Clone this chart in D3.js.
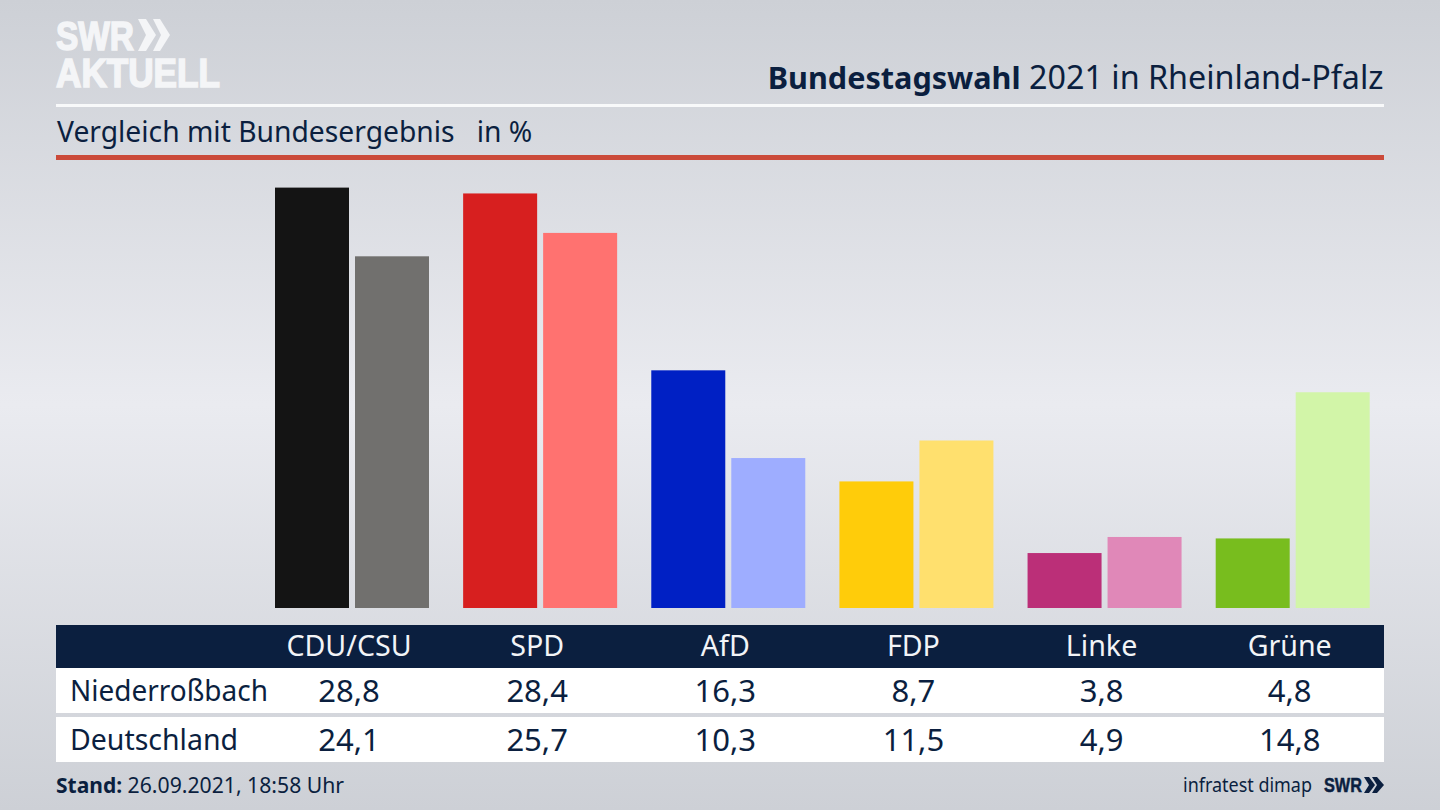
<!DOCTYPE html>
<html>
<head>
<meta charset="utf-8">
<script src="https://cdn.jsdelivr.net/npm/d3@7.9.0/dist/d3.min.js"></script>
<style>
  html, body { margin: 0; padding: 0; background: #d8dae0; }
  svg { display: block; font-family: "Noto Sans", sans-serif; }
</style>
</head>
<body>
<svg id="chart" width="1440" height="810"></svg>
<script>
const parties = ['CDU/CSU', 'SPD', 'AfD', 'FDP', 'Linke', 'Grüne'];
const rowLabels = ['Niederroßbach', 'Deutschland'];
const rowLabelWidths = [198, 168];
const localValues = [28.8, 28.4, 16.3, 8.7, 3.8, 4.8];
const nationalValues = [24.1, 25.7, 10.3, 11.5, 4.9, 14.8];
const localColors = ['#141414', '#d71f1f', '#0020c4', '#ffcc0a', '#bb2f78', '#78bd1e'];
const nationalColors = ['#71706e', '#ff7270', '#9eadff', '#ffe06e', '#e088b8', '#d2f5a8'];

const navy = '#0b1f3f';
const logoFont = '"Liberation Sans", sans-serif';
const comma = v => v.toFixed(1).replace('.', ',');

const svg = d3.select('#chart');

// background
const grad = svg.append('defs').append('linearGradient')
  .attr('id', 'bg').attr('x1', 0).attr('y1', 0).attr('x2', 0).attr('y2', 1);
grad.selectAll('stop')
  .data([['0%', '#cdd0d6'], ['50%', '#eaebf0'], ['100%', '#cdd0d6']])
  .join('stop')
  .attr('offset', d => d[0])
  .attr('stop-color', d => d[1]);
svg.append('rect').attr('width', 1440).attr('height', 810).attr('fill', 'url(#bg)');

// logo top left
const logoLine = (label, baseY, width) => svg.append('text')
  .attr('transform', `translate(56,${baseY}) scale(1,1.26)`)
  .attr('fill', '#f4f5f7')
  .attr('stroke', '#f4f5f7')
  .attr('stroke-width', 1.3)
  .attr('font-size', 32)
  .attr('font-weight', 700)
  .style('font-family', logoFont)
  .attr('textLength', width)
  .attr('lengthAdjust', 'spacingAndGlyphs')
  .text(label);
logoLine('SWR', 50, 78);
logoLine('AKTUELL', 87, 164);
svg.append('path').attr('fill', '#f4f5f7')
  .attr('d', 'M138 19h8l10 16-10 16h-8l8-16z M153 19h7l10 16-10 16h-7l8-16z');

// header
const title = svg.append('text').attr('x', 1383.5).attr('y', 89)
  .attr('text-anchor', 'end').attr('fill', navy);
title.append('tspan').attr('font-weight', 700).attr('font-size', 30.6).text('Bundestagswahl');
title.append('tspan').attr('font-size', 32.3).text(' 2021 in Rheinland-Pfalz');
svg.append('rect').attr('x', 56).attr('y', 104).attr('width', 1328).attr('height', 3).attr('fill', '#f8f9fa');
svg.append('text').attr('x', 57).attr('y', 142).attr('font-size', 28.25).attr('fill', navy)
  .style('white-space', 'pre').text('Vergleich mit Bundesergebnis   in %');
svg.append('rect').attr('x', 56).attr('y', 155).attr('width', 1328).attr('height', 5).attr('fill', '#cb4a3a');

// scales
const x = d3.scalePoint().domain(parties).range([349, 1289.7]);
const y = d3.scaleLinear().domain([0, 28.8]).range([608.6, 187.6]);
const baseline = 608;
const barW = 74;
const barGap = 6;

// bars
svg.append('g').selectAll('rect')
  .data(parties)
  .join('rect')
  .attr('x', d => x(d) - barW)
  .attr('y', (d, i) => y(localValues[i]))
  .attr('width', barW)
  .attr('height', (d, i) => baseline - y(localValues[i]))
  .attr('fill', (d, i) => localColors[i]);
svg.append('g').selectAll('rect')
  .data(parties)
  .join('rect')
  .attr('x', d => x(d) + barGap)
  .attr('y', (d, i) => y(nationalValues[i]))
  .attr('width', barW)
  .attr('height', (d, i) => baseline - y(nationalValues[i]))
  .attr('fill', (d, i) => nationalColors[i]);

// table
svg.append('rect').attr('x', 56).attr('y', 625).attr('width', 1328).attr('height', 43).attr('fill', navy);
svg.append('rect').attr('x', 56).attr('y', 668).attr('width', 1328).attr('height', 45).attr('fill', '#ffffff');
svg.append('rect').attr('x', 56).attr('y', 717).attr('width', 1328).attr('height', 45).attr('fill', '#ffffff');

svg.append('g').selectAll('text')
  .data(parties)
  .join('text')
  .attr('x', d => x(d))
  .attr('y', 656)
  .attr('text-anchor', 'middle')
  .attr('font-size', 28.6)
  .attr('fill', '#f2f4f7')
  .text(d => d);

[localValues, nationalValues].forEach((vals, r) => {
  const baseY = 701 + r * 49;
  svg.append('text').attr('x', 70).attr('y', baseY).attr('font-size', 28.5).attr('fill', navy)
    .attr('textLength', rowLabelWidths[r]).attr('lengthAdjust', 'spacingAndGlyphs').text(rowLabels[r]);
  svg.append('g').selectAll('text')
    .data(vals)
    .join('text')
    .attr('x', (d, i) => x(parties[i]))
    .attr('y', baseY + 1)
    .attr('text-anchor', 'middle')
    .attr('font-size', 31)
    .attr('fill', navy)
    .text(comma);
});

// footer
const stand = svg.append('text').attr('x', 56).attr('y', 793).attr('fill', navy);
stand.append('tspan').attr('font-weight', 700).attr('font-size', 21).text('Stand:');
stand.append('tspan').attr('font-size', 21.2).text(' 26.09.2021, 18:58 Uhr');
svg.append('text').attr('x', 1183).attr('y', 792)
  .attr('font-size', 19.5).attr('fill', navy)
  .attr('textLength', 129).attr('lengthAdjust', 'spacingAndGlyphs').text('infratest dimap');
svg.append('text').attr('x', 1324).attr('y', 792).attr('font-size', 21).attr('fill', navy)
  .attr('stroke', navy).attr('stroke-width', 0.5)
  .attr('font-weight', 700).style('font-family', logoFont)
  .attr('textLength', 38).attr('lengthAdjust', 'spacingAndGlyphs')
  .text('SWR');
svg.append('path').attr('fill', navy).attr('d', 'M1364 777h5l6 8-6 8h-5l5-8z M1372 777h5l7 8-7 8h-5l5-8z');
</script>
</body>
</html>
